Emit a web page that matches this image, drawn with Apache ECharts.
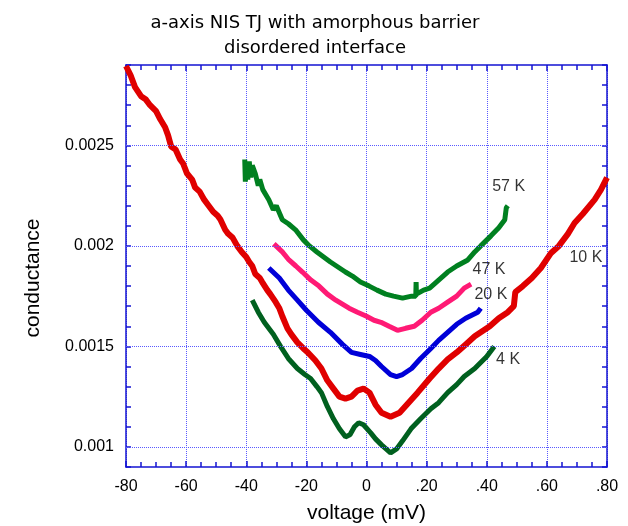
<!DOCTYPE html>
<html>
<head>
<meta charset="utf-8">
<script src="https://cdn.jsdelivr.net/npm/echarts@6/dist/echarts.min.js"></script>
<style>html,body{margin:0;padding:0;background:#fff}#c{width:628px;height:526px}</style>
</head>
<body>
<div id="c"></div>
<script>
// ---- data (voltage in mV, conductance) ----
const v10K = [-80,-78.5,-77,-75,-73.5,-72,-70,-68.6,-67,-66,-65,-63.5,-62,-61,-59.7,-58,-57,-55.5,-54,-52.5,-51,-49.5,-48.6,-47,-46,-44.5,-43,-41.5,-40,-39,-38,-37,-35.5,-34.7,-33,-32,-30.2,-29,-28,-26.3,-25,-23,-21,-19.5,-17,-15,-13,-11,-9,-7,-5,-3,-1,1,3,5,8,11,14,17,21,24,27,30,33,36,38,41,44,47,49,49.5,52,55,58,61.4,64,67,69.2,72,75.9,78,80];
const c10K = [0.002895,0.00285,0.00279,0.002745,0.00273,0.0027,0.00267,0.00263,0.00259,0.00255,0.002495,0.00248,0.00243,0.00241,0.00236,0.00233,0.00229,0.00227,0.00223,0.0022,0.00217,0.00215,0.002131,0.00208,0.00206,0.00204,0.002,0.00197,0.001945,0.00192,0.0019,0.00186,0.00184,0.00182,0.00178,0.00176,0.00172,0.00169,0.00165,0.00159,0.00156,0.00152,0.00149,0.00147,0.00143,0.00139,0.00133,0.00129,0.00125,0.00124,0.00125,0.00128,0.00129,0.00127,0.00121,0.00117,0.00115,0.00117,0.00122,0.00127,0.00134,0.00139,0.001435,0.00147,0.00151,0.00155,0.00157,0.0016,0.00164,0.00167,0.0017,0.00177,0.0018,0.00184,0.00189,0.001965,0.002,0.00206,0.002114,0.00216,0.00223,0.00228,0.00234];

const v57K = [-40.5,-40.3,-40,-39.5,-39,-38.5,-38,-37,-36,-35.5,-34.5,-32.5,-31,-30,-28,-26,-23.6,-21,-19,-16.5,-14.7,-12,-10,-7,-4.7,-2,0.9,3.5,6.4,9,12,15,16.4,16.5,16.6,19,21,24,27,30,33.7,36,38,41.4,44,46,46.5,47];
const c57K = [0.00243,0.00232,0.00241,0.00233,0.00242,0.00234,0.0024,0.00236,0.0023,0.00233,0.00228,0.00223,0.00218,0.0022,0.00213,0.00211,0.00208,0.00203,0.002,0.00197,0.00195,0.00192,0.0019,0.00187,0.00185,0.00182,0.0018,0.00178,0.00176,0.00175,0.00174,0.00175,0.00175,0.00182,0.00176,0.00178,0.00179,0.00183,0.00187,0.0019,0.00193,0.00197,0.002,0.00205,0.00209,0.00213,0.00219,0.0022];

const v47K = [-30.8,-28,-25.8,-23.5,-21.3,-18.5,-15.8,-13,-10.2,-8,-5.8,-3,0,2.5,4.8,7.5,10.3,13,15.9,18.5,21.4,24,27,30,32.5,34.8];
const c47K = [0.00201,0.00197,0.00193,0.0019,0.00187,0.00183,0.0018,0.00176,0.00173,0.00171,0.00169,0.00167,0.00165,0.00163,0.00162,0.0016,0.00158,0.00159,0.0016,0.00163,0.00167,0.00169,0.00172,0.00175,0.00179,0.00181];

const v20K = [-32.5,-29,-26,-23,-20,-16,-12,-8,-5,-2,1,3,5,8,10,12,15,18,21.4,24,27,30,33,37,38];
const c20K = [0.00189,0.00184,0.00178,0.00173,0.00168,0.00162,0.00157,0.00151,0.00147,0.00146,0.00145,0.00143,0.0014,0.00136,0.00135,0.00136,0.00139,0.00144,0.00149,0.00153,0.00157,0.00161,0.00164,0.00167,0.00169];

const v4K = [-38,-36,-34,-31,-28.6,-26,-23,-20.5,-18.6,-16.5,-15,-13,-11,-9,-7,-5.5,-4,-2.6,-1,1.4,3,5,8,10,12,14.8,18,21.4,24,27,30,32.5,36,40,42.5];
const c4K = [0.00173,0.00167,0.00162,0.00156,0.0015,0.00144,0.00139,0.00136,0.00134,0.0013,0.00127,0.0012,0.00114,0.00109,0.00105,0.00106,0.0011,0.00112,0.00111,0.00107,0.00104,0.00101,0.00097,0.00099,0.00103,0.00109,0.00114,0.00119,0.00122,0.00127,0.00131,0.00135,0.00139,0.00145,0.0015];

const curveNames = ['10 K','57 K','47 K','20 K','4 K'];
// label anchor points (voltage, conductance) of the curve names
const labelV = [67.5, 41.8, 35.3, 35.9, 43.1];
const labelC = [0.00194, 0.002294, 0.001882, 0.001758, 0.001435];

const xTicks = [-80,-60,-40,-20,0,20,40,60,80];
const xTickLabels = ['-80','-60','-40','-20','0','.20','.40','.60','.80'];
const yTicks = [0.001,0.0015,0.002,0.0025];
const yTickLabels = ['0.001','0.0015','0.002','0.0025'];

// ---- chart ----
const zip = (a,b) => a.map((x,i)=>[x,b[i]]);
const AX = '#1414d2';
const GRID = '#5a5aff';
const chart = echarts.init(document.getElementById('c'), null, {renderer:'canvas'});

const lineSeries = (name, vs, cs, color, w) => ({
  name, type:'line', data: zip(vs,cs), showSymbol:false, symbol:'none',
  lineStyle:{color, width:w, join:'bevel', cap:'butt'}, z:3, silent:true
});

const option = {
  animation:false,
  backgroundColor:'#ffffff',
  title:{
    text:'a-axis NIS TJ with amorphous barrier\ndisordered interface',
    left:310, top:6, textAlign:'center',
    textStyle:{fontFamily:'DejaVu Sans', fontSize:18, fontWeight:'normal', color:'#000', lineHeight:25}
  },
  grid:{left:126, right:21, top:65, bottom:59, containLabel:false, outerBoundsMode:'none'},
  xAxis:[{
    type:'value', min:-80, max:80, interval:20, position:'bottom',
    axisLine:{show:true, onZero:false, lineStyle:{color:AX, width:1.5}},
    axisTick:{show:true, inside:true, length:6, lineStyle:{color:AX, width:1.5}},
    minorTick:{show:true, splitNumber:4, length:5, lineStyle:{color:AX, width:1.5}},
    axisLabel:{margin:12, color:'#000', fontFamily:'Liberation Sans', fontSize:16,
      formatter:(v)=>{const i=xTicks.findIndex(t=>Math.abs(t-v)<1e-9);return i>=0?xTickLabels[i]:'';}},
    splitLine:{show:true, lineStyle:{color:GRID, type:[1,1], width:1}},
    name:'voltage (mV)', nameLocation:'middle', nameGap:36,
    nameTextStyle:{color:'#000', fontFamily:'Liberation Sans', fontSize:21}
  },{
    type:'value', min:-80, max:80, interval:20, position:'top',
    axisLine:{show:true, onZero:false, lineStyle:{color:AX, width:1.5}},
    axisTick:{show:true, inside:true, length:6, lineStyle:{color:AX, width:1.5}},
    minorTick:{show:true, splitNumber:4, length:5, lineStyle:{color:AX, width:1.5}},
    axisLabel:{show:false}, splitLine:{show:false}
  }],
  yAxis:[{
    type:'value', min:0.0009, max:0.0029, interval:0.0001, position:'left',
    axisLine:{show:true, onZero:false, lineStyle:{color:AX, width:1.5}},
    axisTick:{show:true, inside:true, length:5, lineStyle:{color:AX, width:1.5}},
    axisLabel:{margin:12, color:'#000', fontFamily:'Liberation Sans', fontSize:16,
      formatter:(v)=>{const i=yTicks.findIndex(t=>Math.abs(t-v)<1e-9);return i>=0?yTickLabels[i]:'';}},
    splitLine:{show:false}
  },{
    type:'value', min:0.0009, max:0.0029, interval:0.0001, position:'right',
    axisLine:{show:true, onZero:false, lineStyle:{color:AX, width:1.5}},
    axisTick:{show:true, inside:true, length:5, lineStyle:{color:AX, width:1.5}},
    axisLabel:{show:false}, splitLine:{show:false}
  }],
  graphic:[{
    type:'text', x:33, y:278, rotation:Math.PI/2,
    style:{text:'conductance', fill:'#000', font:'21px "Liberation Sans"', textAlign:'center', textVerticalAlign:'middle'}
  }],
  series:[
    {
      // horizontal grid lines at the labelled conductance ticks
      type:'line', data:[[xTicks[0], yTicks[0]],[xTicks[0], yTicks[0]]], silent:true, z:1, showSymbol:false, symbol:'none',
      lineStyle:{color:GRID, width:0},
      markLine:{silent:true, symbol:['none','none'], label:{show:false}, animation:false,
        lineStyle:{color:GRID, type:[1,1], width:1, opacity:1},
        data: yTicks.map(t=>[{coord:[xTicks[0], t]},{coord:[xTicks[xTicks.length-1], t]}])}
    },
    lineSeries('10 K', v10K, c10K, '#e00000', 6),
    lineSeries('57 K', v57K, c57K, '#008020', 5),
    lineSeries('47 K', v47K, c47K, '#ff1a75', 5),
    lineSeries('20 K', v20K, c20K, '#0000d8', 5),
    lineSeries('4 K', v4K, c4K, '#00601f', 5),
    {
      type:'scatter', symbolSize:0, silent:true, z:5,
      data: labelV.map((v,i)=>({value:[v,labelC[i]], name:curveNames[i]})),
      label:{show:true, position:'right', distance:0, formatter:(p)=>p.name,
        color:'#000', fontFamily:'Liberation Sans', fontSize:16}
    }
  ]
};
chart.setOption(option);
</script>
</body>
</html>
